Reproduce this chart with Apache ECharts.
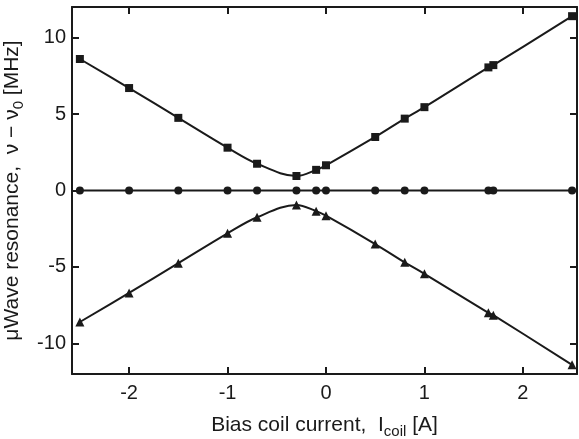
<!DOCTYPE html>
<html>
<head>
<meta charset="utf-8">
<script src="https://cdn.jsdelivr.net/npm/echarts@6/dist/echarts.min.js"></script>
<style>
  html, body { margin: 0; padding: 0; background: #fff; }
  #chart { width: 579px; height: 439px; }
</style>
</head>
<body>
<div id="chart"></div>
<script>
const current = [-2.5, -2, -1.5, -1, -0.7, -0.3, -0.1, 0, 0.5, 0.8, 1, 1.65, 1.7, 2.5]
const upper = [8.6, 6.7, 4.75, 2.8, 1.75, 0.95, 1.35, 1.65, 3.5, 4.7, 5.45, 8.05, 8.2, 11.4]
const middle = [0, 0, 0, 0, 0, 0, 0, 0, 0, 0, 0, 0, 0, 0]
const lower = [-8.6, -6.7, -4.75, -2.8, -1.75, -0.95, -1.35, -1.65, -3.5, -4.7, -5.45, -8.0, -8.15, -11.4]
const xTicks = [-2, -1, 0, 1, 2]
const yTicks = [-10, -5, 0, 5, 10]

const ink = '#1a1a1a'
const font = 'Liberation Sans'

const pairs = (ys) => current.map((x, i) => [x, ys[i]])

const makeSeries = (name, ys, symbol, size) => ({
  name: name,
  type: 'line',
  smooth: 0.35,
  data: pairs(ys),
  symbol: symbol,
  symbolSize: size,
  lineStyle: { color: ink, width: 2 },
  itemStyle: { color: ink },
  animation: false
})

const baseX = {
  type: 'value',
  min: -2.58,
  max: 2.55,
  interval: 1,
  axisLine: { onZero: false, lineStyle: { color: ink, width: 2 } },
  axisTick: { inside: true, length: 7, lineStyle: { color: ink, width: 2 },
    customValues: xTicks },
  splitLine: { show: false }
}
const baseY = {
  type: 'value',
  min: -12,
  max: 12,
  interval: 5,
  axisLine: { onZero: false, lineStyle: { color: ink, width: 2 } },
  axisTick: { inside: true, length: 7, lineStyle: { color: ink, width: 2 },
    customValues: yTicks },
  splitLine: { show: false }
}

const chart = echarts.init(document.getElementById('chart'))
chart.setOption({
  backgroundColor: '#fff',
  animation: false,
  grid: { left: 72, right: 2, top: 7, bottom: 65, containLabel: false, outerBoundsMode: 'none' },
  xAxis: [
    Object.assign({}, baseX, {
      position: 'bottom',
      axisLabel: { customValues: xTicks, color: ink, fontFamily: font, fontSize: 20, margin: 9,
        formatter: (v) => String(v) },
      name: '{n|Bias coil current,  I}{s|coil}{n| [A]}',
      nameLocation: 'middle',
      nameGap: 38,
      nameTextStyle: {
        rich: {
          n: { fontFamily: font, fontSize: 21, color: ink },
          s: { fontFamily: font, fontSize: 15, color: ink, padding: [12, 0, 0, 0] }
        }
      }
    }),
    Object.assign({}, baseX, { position: 'top', axisLabel: { show: false } })
  ],
  yAxis: [
    Object.assign({}, baseY, {
      position: 'left',
      axisLabel: { customValues: yTicks, color: ink, fontFamily: font, fontSize: 20, margin: 6,
        formatter: (v) => String(v) },
      name: '{n|μWave resonance,  ν − ν}{s|0}{n| [MHz]}',
      nameLocation: 'middle',
      nameRotate: 90,
      nameGap: 42,
      nameTextStyle: {
        rich: {
          n: { fontFamily: font, fontSize: 21, color: ink },
          s: { fontFamily: font, fontSize: 15, color: ink, padding: [12, 0, 0, 0] }
        }
      }
    }),
    Object.assign({}, baseY, { position: 'right', axisLabel: { show: false } })
  ],
  series: [
    makeSeries('upper', upper, 'rect', 8),
    makeSeries('middle', middle, 'circle', 8),
    makeSeries('lower', lower, 'triangle', 9)
  ]
})
</script>
</body>
</html>
